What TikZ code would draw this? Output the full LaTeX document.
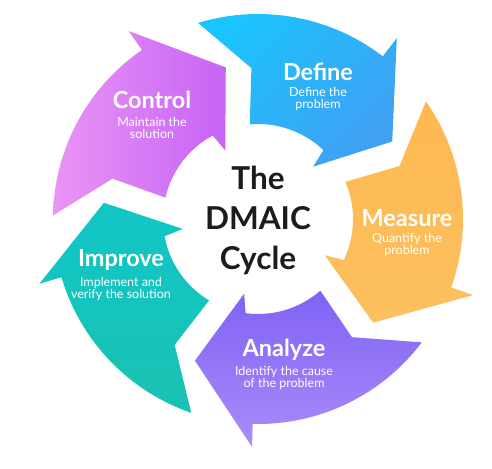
\documentclass[tikz,border=0pt]{standalone}
\usepackage{fontspec}
\setmainfont{Lato}
\usepackage{tikz}
\usetikzlibrary{positioning}

\definecolor{defineTop}{RGB}{26,196,255}
\definecolor{defineBot}{RGB}{64,160,244}
\definecolor{measureTop}{RGB}{254,184,82}
\definecolor{measureBot}{RGB}{252,192,94}
\definecolor{analyzeTop}{RGB}{128,98,245}
\definecolor{analyzeBot}{RGB}{170,140,250}
\definecolor{improveTop}{RGB}{16,198,198}
\definecolor{improveBot}{RGB}{26,194,178}
\definecolor{controlTop}{RGB}{234,148,245}
\definecolor{controlBot}{RGB}{198,100,245}
\definecolor{cycleText}{RGB}{28,28,28}

\begin{document}
\begin{tikzpicture}[x=1pt,y=-1pt,
    step title/.style={text=white,font=\bfseries\fontsize{23.5}{24}\selectfont},
    step text/.style={text=white,align=center,font=\fontsize{12.5}{12}\selectfont},
    cycle text/.style={text=cycleText,align=center,font=\bfseries\fontsize{31.5}{40}\selectfont}]

  \useasboundingbox (0,0) rectangle (492,468);
  \coordinate (Center) at (258,219);

  % the five arrows, each one turned by 72 degrees
  \foreach \k/\ctop/\cbot/\shang in {0/defineTop/defineBot/45,1/measureTop/measureBot/0,%
      2/analyzeTop/analyzeBot/0,3/improveTop/improveBot/0,4/controlTop/controlBot/90}
  {
    \pgfmathsetmacro{\o}{72*\k-90}
    \shade[top color=\ctop,bottom color=\cbot,shading angle=\shang]
      ([shift={(\o-17:205)}]Center) arc[start angle=\o-17,end angle=\o+37.5,radius=205]
      -- ([shift={(\o+37.5:228)}]Center) -- ([shift={(\o+60:155)}]Center) % head
      -- ([shift={(\o+46.5:76)}]Center) -- ([shift={(\o+43.5:95)}]Center)
      arc[start angle=\o+43.5,end angle=\o-5,radius=95]
      -- ([shift={(\o-2.5:151)}]Center) -- cycle; % notched tail
  }

  % step names
  \node[step title] (define)  at (318,72)  {Define};
  \node[step title] (measure) at (407,218) {Measure};
  \node[step title] (analyze) at (284,350) {Analyze};
  \node[step title] (improve) at (121,260) {Improve};
  \node[step title] (control) at (152,100) {Control};

  % what each step stands for
  \node[step text] (defineTxt)  at (318,99)  {Define the\\problem};
  \node[step text] (measureTxt) at (407,245) {Quantify the\\problem};
  \node[step text] (analyzeTxt) at (284,378) {Identify the cause\\of the problem};
  \node[step text] (improveTxt) at (121,289) {Implement and\\verify the solution};
  \node[step text] (controlTxt) at (152,128) {Maintain the\\solution};

  % our title in the middle
  \node[cycle text] (cycle) at (258,220) {The\\DMAIC\\Cycle};

\end{tikzpicture}
\end{document}
